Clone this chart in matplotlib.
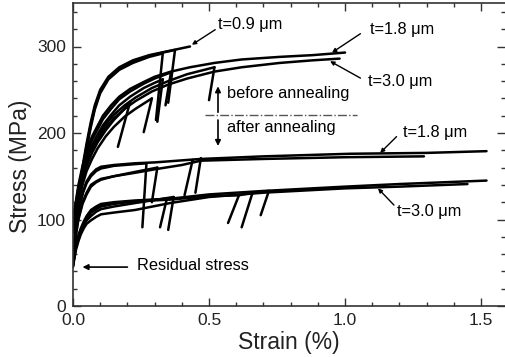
import matplotlib
matplotlib.use("Agg")
import matplotlib.pyplot as plt
from matplotlib.ticker import MultipleLocator

plt.rcParams['font.family'] = ['Liberation Sans', 'DejaVu Sans']

# ---------------- data (strain %, stress MPa) ----------------
# before annealing, t = 0.9 um
b09_1_x = [0, .01, .02, .03, .04, .05, .065, .08, .10, .13, .17, .22, .28, .34, .40, .43]
b09_1_y = [90, 110, 130, 150, 170, 188, 212, 232, 250, 265, 276, 284, 290, 294, 298, 300]
b09_2_x = [0, .01, .02, .03, .04, .05, .065, .08, .10, .13, .17, .22, .28, .33]
b09_2_y = [85, 105, 125, 145, 163, 182, 206, 227, 246, 262, 273, 281, 288, 292]
b09_3_x = [0, .01, .02, .03, .04, .05, .065, .08, .10, .13, .17, .22, .28, .33, .375]
b09_3_y = [88, 108, 128, 148, 167, 185, 209, 229, 248, 263, 274, 282, 289, 293, 296]

# before annealing, t = 1.8 um
b18_1_x = [0, .01, .02, .035, .05, .07, .09, .11, .14, .17, .21, .26, .30, .36, .43, .52, .62, .76, .88, .96, 1.0]
b18_1_y = [100, 120, 140, 162, 180, 196, 208, 220, 232, 242, 251, 259, 265, 271, 276, 281, 285, 288, 290, 292, 293]
b18_2_x = [0, .01, .02, .035, .05, .07, .09, .11, .14, .17, .21, .26, .30, .36]
b18_2_y = [97, 117, 137, 158, 176, 192, 204, 216, 228, 239, 248, 257, 263, 270]
b18_3_x = [0, .01, .02, .035, .05, .07, .09, .11, .14, .17, .21, .26, .30, .33]
b18_3_y = [95, 114, 133, 154, 171, 186, 198, 209, 221, 232, 242, 252, 258, 262]

# before annealing, t = 3.0 um
b30_1_x = [0, .01, .02, .035, .05, .07, .09, .12, .15, .19, .23, .29, .35, .42, .52, .62, .76, .88, .98]
b30_1_y = [95, 112, 128, 148, 165, 180, 192, 206, 217, 228, 237, 248, 256, 263, 271, 276, 281, 284, 286]
b30_2_x = [0, .01, .02, .035, .05, .07, .09, .12, .15, .19, .21]
b30_2_y = [92, 109, 125, 145, 162, 177, 189, 203, 215, 228, 236]
b30_3_x = [0, .01, .02, .035, .05, .07, .09, .12, .15, .19, .23, .29]
b30_3_y = [90, 106, 121, 140, 156, 170, 182, 196, 207, 219, 228, 240]
b30_4_x = [0, .01, .02, .035, .05, .07, .09, .12, .15, .19, .23, .29, .35, .42, .52]
b30_4_y = [98, 115, 132, 152, 169, 184, 196, 210, 221, 232, 241, 252, 260, 268, 276]

# after annealing, t = 1.8 um
a18_1_x = [0, .005, .01, .018, .028, .037, .05, .066, .085, .103, .15, .228, .30, .47, .70, 1.02, 1.30, 1.52]
a18_1_y = [62, 78, 92, 108, 122, 133, 144, 152, 158, 161, 163, 165, 166, 170, 173, 176, 177, 179]
a18_2_x = [0, .01, .02, .035, .05, .066, .085, .103, .15, .228, .30, .40, .47, .70, 1.00, 1.29]
a18_2_y = [58, 82, 102, 120, 131, 140, 144, 147, 150, 154, 158, 163, 168, 170, 172, 173]
a18_3_x = [0, .005, .01, .018, .028, .037, .05, .066, .085, .103, .15, .228, .27]
a18_3_y = [60, 76, 90, 106, 120, 131, 142, 150, 156, 159, 162, 164, 165]
a18_4_x = [0, .01, .02, .035, .05, .066, .085, .103, .15, .228, .31]
a18_4_y = [56, 80, 100, 118, 129, 138, 143, 146, 150, 155, 160]

# after annealing, t = 3.0 um
a30_1_x = [0, .005, .011, .02, .029, .04, .05, .066, .085, .103, .15, .228, .357, .50, .70, 1.00, 1.20, 1.52]
a30_1_y = [48, 60, 72, 82, 90, 98, 104, 111, 115, 118, 120, 122, 124, 129, 133, 138, 141, 145]
a30_2_x = [0, .005, .011, .02, .029, .04, .05, .066, .085, .103, .15, .228, .357, .50, .70, 1.00, 1.20, 1.45]
a30_2_y = [45, 55, 65, 75, 83, 90, 95, 99, 103, 106, 108, 111, 119, 126, 131, 136, 138, 141]
a30_3_x = [0, .005, .011, .02, .029, .04, .05, .066, .085, .103, .15, .228, .345]
a30_3_y = [47, 58, 69, 79, 87, 95, 101, 108, 112, 115, 118, 121, 124]
a30_4_x = [0, .005, .011, .02, .029, .04, .05, .066, .085, .103, .15, .228, .37]
a30_4_y = [46, 57, 68, 78, 86, 93, 99, 104, 109, 112, 115, 119, 126]
a30_5_x = [0, .005, .011, .02, .029, .04, .05, .066, .085, .103, .15, .228, .357, .50, .61, .66, .72]
a30_5_y = [47, 58, 70, 80, 88, 96, 102, 109, 113, 116, 119, 121, 123, 127, 128, 131, 133]

# unloading segments: (strain_start, stress_start, strain_end, stress_end)
unloads = [
    (.33, 292, .305, 215), (.375, 296, .35, 235),
    (.36, 270, .34, 232), (.33, 262, .31, 213),
    (.21, 236, .165, 184), (.29, 240, .26, 201), (.52, 276, .50, 238),
    (.27, 165, .255, 91), (.31, 160, .29, 120), (.44, 169, .41, 128), (.47, 171, .45, 131),
    (.345, 124, .32, 91), (.37, 126, .35, 88), (.61, 128, .57, 96),
    (.66, 131, .62, 91), (.72, 133, .69, 105),
]

curves = [
    (b09_1_x, b09_1_y), (b09_2_x, b09_2_y), (b09_3_x, b09_3_y),
    (b18_1_x, b18_1_y), (b18_2_x, b18_2_y), (b18_3_x, b18_3_y),
    (b30_1_x, b30_1_y), (b30_2_x, b30_2_y), (b30_3_x, b30_3_y), (b30_4_x, b30_4_y),
    (a18_1_x, a18_1_y), (a18_2_x, a18_2_y), (a18_3_x, a18_3_y), (a18_4_x, a18_4_y),
    (a30_1_x, a30_1_y), (a30_2_x, a30_2_y), (a30_3_x, a30_3_y), (a30_4_x, a30_4_y),
    (a30_5_x, a30_5_y),
]

x_ticks = [0.0, 0.5, 1.0, 1.5]
x_ticklabels = ["0.0", "0.5", "1.0", "1.5"]
y_ticks = [0, 100, 200, 300]
y_ticklabels = ["0", "100", "200", "300"]

# ---------------- figure ----------------
fig = plt.figure(figsize=(5.06, 3.57), dpi=100)
ax = fig.add_axes([73 / 506, 1 - 306 / 357, 432 / 506, 302.75 / 357])

for xs, ys in curves:
    ax.plot(xs, ys, color='black', lw=1.8, solid_capstyle='round', solid_joinstyle='round')
for x0, y0, x1, y1 in unloads:
    ax.plot([x0, x1], [y0, y1], color='black', lw=1.8, solid_capstyle='round')

ax.set_xlim(0, 1.588)
ax.set_ylim(0, 350)
ax.set_xticks(x_ticks)
ax.set_xticklabels(x_ticklabels)
ax.set_yticks(y_ticks)
ax.set_yticklabels(y_ticklabels)
ax.xaxis.set_minor_locator(MultipleLocator(0.1))
ax.yaxis.set_minor_locator(MultipleLocator(20))
ax.tick_params(which='both', direction='in', top=True, right=True, color='#333333')
ax.tick_params(which='major', length=6, width=1.0, labelsize=12.5, pad=5, labelcolor='#222222')
ax.tick_params(which='minor', length=3, width=1.0)
ax.spines['right'].set_visible(False)
for s in ['left', 'bottom', 'top']:
    ax.spines[s].set_linewidth(1.2)
    ax.spines[s].set_color('#333333')

ax.set_xlabel("Strain (%)", fontsize=16.5, labelpad=2, color='#222222')
ax.set_ylabel("Stress (MPa)", fontsize=16.5, labelpad=4, color='#222222')
ax.yaxis.set_label_coords(-0.095, 0.46)

fs = 11.8
lead = dict(arrowstyle='-|>', lw=1.0, color='black', mutation_scale=6, shrinkA=0, shrinkB=0)

ax.annotate("t=0.9 \u03bcm", xy=(0.437, 302), xytext=(0.533, 325), fontsize=fs,
            va='center', ha='left', arrowprops=dict(lead, relpos=(0, 0.3)))
ax.annotate("t=1.8 \u03bcm", xy=(0.952, 293), xytext=(1.092, 320), fontsize=fs,
            va='center', ha='left', arrowprops=dict(lead, relpos=(-0.15, 0.2)))
ax.annotate("t=3.0 \u03bcm", xy=(0.945, 283), xytext=(1.085, 260), fontsize=fs,
            va='center', ha='left', arrowprops=dict(lead, relpos=(-0.12, 0.7)))
ax.annotate("t=1.8 \u03bcm", xy=(1.129, 177), xytext=(1.213, 201), fontsize=fs,
            va='center', ha='left', arrowprops=dict(lead, relpos=(-0.1, 0.2)))
ax.annotate("t=3.0 \u03bcm", xy=(1.121, 136), xytext=(1.19, 109), fontsize=fs,
            va='center', ha='left', arrowprops=dict(lead, relpos=(0, 0.75)))

ax.text(0.566, 246, "before annealing", fontsize=fs, va='center', ha='left')
ax.text(0.566, 206, "after annealing", fontsize=fs, va='center', ha='left')
ax.plot([0.485, 1.044], [221, 221], color='#555555', lw=1.0, ls='-.')
arr = dict(arrowstyle='-|>', lw=1.2, color='black', mutation_scale=8, shrinkA=0, shrinkB=0)
ax.annotate("", xy=(0.533, 254), xytext=(0.533, 224), arrowprops=arr)
ax.annotate("", xy=(0.533, 185), xytext=(0.533, 215), arrowprops=arr)

ax.annotate("", xy=(0.035, 45), xytext=(0.2, 45),
            arrowprops=dict(arrowstyle='-|>', lw=1.2, color='black', mutation_scale=8,
                            shrinkA=0, shrinkB=0))
ax.text(0.235, 47, "Residual stress", fontsize=fs, va='center', ha='left')

fig.savefig("out.png", dpi=100)
